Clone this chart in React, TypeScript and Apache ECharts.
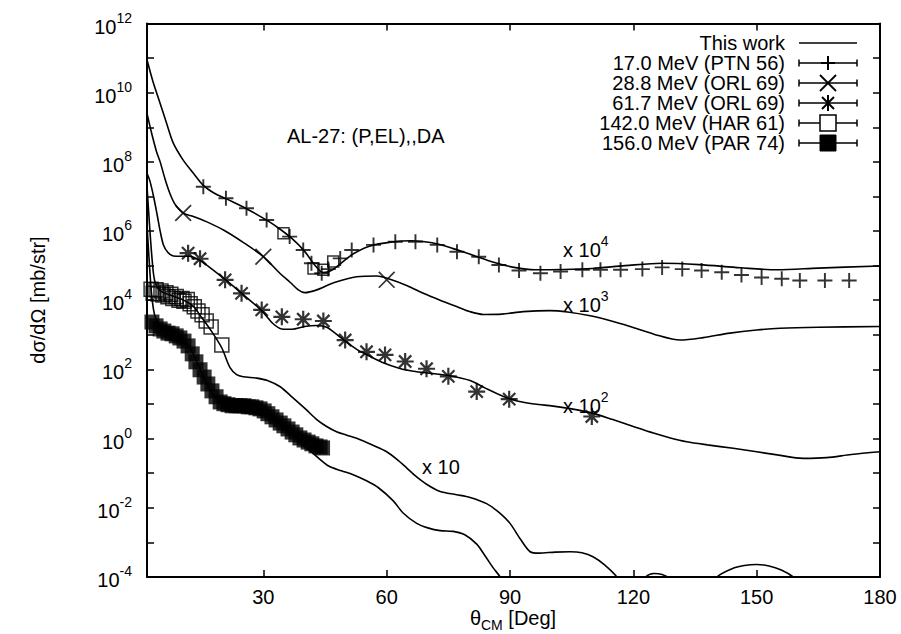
import React, { useEffect, useRef } from 'react';
import * as echarts from 'echarts';

const FONT = '"Liberation Sans", Arial, Helvetica, sans-serif';

// axis ticks / labels
const THETA_TICKS = [30, 60, 90, 120, 150, 180];
const DECADE_TICKS = [1e-4, 1e-3, 1e-2, 1e-1, 1, 1e1, 1e2, 1e3, 1e4, 1e5, 1e6, 1e7, 1e8, 1e9, 1e10, 1e11, 1e12];
const DECADE_LABELS = [1e-4, 1e-2, 1, 1e2, 1e4, 1e6, 1e8, 1e10, 1e12];

const LEGEND_ROWS = [
  'This work',
  '17.0 MeV (PTN 56)',
  '28.8 MeV (ORL 69)',
  '61.7 MeV (ORL 69)',
  '142.0 MeV (HAR 61)',
  '156.0 MeV (PAR 74)',
];

// All pairs: [θ_CM (deg), log10 of dσ/dΩ (mb/str), already multiplied by the plotted factor]
// "This work" curves
const theory17x1e4: [number, number][] = [
  [1.7, 10.95], [3.2, 10.3], [4.9, 9.69], [6.5, 9.1], [8.1, 8.54], [10.5, 8.05], [13, 7.67], [15.4, 7.32],
  [18, 7.1], [21, 6.93], [26, 6.64], [31, 6.3], [34, 6.06], [37, 5.78], [40, 5.42], [42.5, 5.02], [44.5, 4.8],
  [46.5, 4.86], [49, 5.08], [52, 5.35], [56, 5.57], [61, 5.68], [66, 5.72], [71, 5.66], [76, 5.5], [81, 5.3],
  [86, 5.1], [91, 4.95], [96, 4.88], [103, 4.89], [110, 4.92], [118, 5.0], [127, 5.07], [136, 5.03],
  [146, 4.94], [155, 4.88], [165, 4.93], [180, 4.99],
];
const theory28x1e3: [number, number][] = [
  [1.7, 9.4], [2.8, 8.84], [4, 8.3], [4.9, 8.0], [6.1, 7.5], [7.3, 7.08], [8.5, 6.78], [10.5, 6.52], [13, 6.42],
  [16, 6.28], [20.3, 6.03], [25, 5.68], [30, 5.26], [34, 4.78], [36.5, 4.52], [38.5, 4.3], [40.1, 4.22],
  [43, 4.3], [47, 4.5], [52.7, 4.68], [57.6, 4.7], [61, 4.6], [65, 4.42], [68.9, 4.2], [73, 4.0], [77, 3.82],
  [80, 3.68], [83.5, 3.59], [88, 3.6], [93.2, 3.67], [99.7, 3.7], [104, 3.66], [109.5, 3.55], [114, 3.42],
  [119.2, 3.24], [125, 3.02], [131.4, 2.85], [137, 2.92], [143.5, 3.05], [150, 3.14], [155.7, 3.19],
  [165, 3.22], [180, 3.24],
];
const theory61x1e2: [number, number][] = [
  [1.7, 7.67], [2.4, 7.45], [3.3, 7.0], [4.2, 6.45], [4.9, 6.0], [5.7, 5.6], [6.8, 5.38], [8.1, 5.28],
  [10, 5.27], [12, 5.27], [14.6, 5.15], [17.5, 4.9], [20.7, 4.6], [24.7, 4.2], [29.6, 3.7], [32.4, 3.32],
  [34.5, 3.17], [37, 3.16], [40, 3.24], [43, 3.27], [45.4, 3.22], [48, 3.0], [50.3, 2.78], [53, 2.56],
  [55.1, 2.43], [59, 2.2], [63.2, 2.03], [66.5, 1.95], [70.5, 1.89], [75.4, 1.82], [80.3, 1.68], [84, 1.46],
  [88.4, 1.22], [92, 1.08], [96, 1.0], [100.5, 0.94], [105, 0.86], [110.3, 0.73], [115, 0.55], [120, 0.35],
  [124.9, 0.16], [129, 0.02], [133, -0.09], [138, -0.18], [144.3, -0.28], [150, -0.38], [155, -0.47],
  [161.3, -0.57], [167, -0.55], [173, -0.46], [180, -0.38],
];
const theory142x10: [number, number][] = [
  [1.7, 7.3], [2.3, 6.2], [3, 5.1], [3.6, 4.55], [4.9, 4.28], [8, 4.12], [11, 3.98], [13, 3.82], [15, 3.5],
  [17.4, 3.1], [19.9, 2.62], [21.9, 2.05], [23.5, 1.85], [25.1, 1.79], [28.4, 1.75], [31, 1.68], [34.1, 1.5],
  [37, 1.2], [40.5, 0.83], [43, 0.55], [45.4, 0.35], [47.8, 0.2], [50.3, 0.1], [52.7, 0.01], [56.8, -0.2],
  [60, -0.38], [62.5, -0.6], [64.9, -0.85], [67, -1.08], [69.7, -1.32], [73, -1.53], [77, -1.62],
  [80.3, -1.7], [84.3, -1.88], [87.6, -2.16], [90, -2.45], [92.5, -2.9], [94.9, -3.27], [97, -3.31],
  [101, -3.28], [104.6, -3.27], [107.5, -3.3], [110.3, -3.42], [113, -3.65], [116, -4.0], [118, -4.4],
  [120, -4.5], [121.5, -4.3], [123, -4.0], [125, -3.9], [127, -3.93], [128.9, -4.05], [131, -4.4],
  [135, -4.6], [138, -4.4], [140.3, -4.0], [144, -3.76], [147, -3.67], [150, -3.64], [153, -3.68],
  [156, -3.8], [158.9, -4.0], [162, -4.35], [170, -4.6], [180, -4.6],
];
const theory156x1: [number, number][] = [
  [1.7, 6.2], [2.2, 5.2], [2.8, 4.2], [3.5, 3.6], [4.5, 3.3], [6, 3.15], [8, 3.02], [10, 2.9], [12, 2.65],
  [13.5, 2.3], [15, 1.9], [16.5, 1.55], [18, 1.25], [20, 1.02], [22, 0.92], [25, 0.88], [28, 0.84], [31, 0.7],
  [34, 0.45], [37, 0.15], [40, -0.2], [43, -0.52], [46, -0.8], [49, -0.93], [52, -1.05], [55.1, -1.22],
  [58, -1.42], [61.6, -1.8], [64, -2.15], [67.3, -2.45], [70, -2.58], [73, -2.66], [76.2, -2.68],
  [79, -2.78], [81.9, -3.05], [84, -3.4], [86, -3.75], [87.6, -4.0], [90, -4.6],
];

// measured data
const ptn56x1e4: [number, number][] = [
  [15.4, 7.28], [20.9, 6.95], [25.9, 6.66], [30.8, 6.32], [36.4, 5.84], [39.7, 5.45], [41.7, 5.07],
  [44.2, 4.78], [45.8, 4.9], [48.7, 5.21], [51.5, 5.45], [56.8, 5.6], [62.1, 5.69], [67, 5.69], [72.3, 5.6],
  [77.1, 5.4], [82.4, 5.26], [87.3, 5.02], [92.2, 4.86], [97.4, 4.78], [102.3, 4.83], [107.6, 4.88],
  [112, 4.88], [116.9, 4.88], [122.2, 4.9], [127, 4.95], [131.9, 4.9], [136.6, 4.86], [141.5, 4.81],
  [146.3, 4.73], [151.2, 4.66], [156.1, 4.62], [160.5, 4.57], [166.6, 4.57], [172.5, 4.57],
];
const ptn56BoxesX1e4: [number, number][] = [[34.9, 5.94], [42.2, 4.92], [44.6, 4.88], [47, 5.12]];
const orl69_28x1e3: [number, number][] = [[10.5, 6.52], [30, 5.26], [60, 4.59]];
const orl69_61x1e2: [number, number][] = [
  [11.7, 5.36], [14.6, 5.2], [20.7, 4.59], [24.7, 4.2], [29.6, 3.72], [34.5, 3.52], [39.7, 3.45],
  [44.6, 3.4], [49.9, 2.85], [55.1, 2.51], [59.6, 2.42], [64.5, 2.23], [69.7, 2.02], [75.0, 1.8],
  [81.9, 1.36], [89.8, 1.14], [109.9, 0.64],
];
const har61x10: [number, number][] = [
  [2.7, 4.32], [3.2, 4.2], [3.9, 4.3], [4.4, 4.18], [5.1, 4.27], [5.6, 4.15], [6.3, 4.22], [6.8, 4.1],
  [7.5, 4.17], [8.0, 4.05], [8.8, 4.11], [9.5, 4.0], [10.2, 4.05], [10.7, 3.97], [11.5, 4.02], [12.2, 3.9],
  [13.2, 3.81], [14.1, 3.69], [15.1, 3.58], [16.1, 3.4], [17.3, 3.23], [19.9, 2.71],
];
const par74x1: [number, number][] = [
  [2.9, 3.37], [3.9, 3.26], [4.9, 3.17], [5.8, 3.11], [6.8, 3.05], [7.8, 3.03], [8.8, 2.97], [9.7, 2.91],
  [10.7, 2.82], [11.7, 2.68], [12.7, 2.45], [13.6, 2.22], [14.6, 1.99], [15.6, 1.78], [16.5, 1.58],
  [17.5, 1.38], [18.5, 1.21], [19.5, 1.06], [20.4, 1.01], [21.4, 0.98], [22.4, 0.95], [23.4, 0.95],
  [24.3, 0.95], [25.3, 0.95], [26.3, 0.92], [27.2, 0.92], [28.2, 0.89], [29.2, 0.86], [30.2, 0.8],
  [31.1, 0.72], [32.1, 0.63], [33.1, 0.54], [34.1, 0.45], [35.0, 0.37], [36.0, 0.28], [37.0, 0.19],
  [37.9, 0.11], [38.9, 0.02], [39.9, -0.04], [40.9, -0.1], [41.8, -0.15], [42.8, -0.21], [43.8, -0.24],
  [44.4, -0.27],
];

const toValues = (a: [number, number][]) => a.map(([t, e]) => [t, Math.pow(10, e)]);

const PLUS = 'path://M0,6.1H14V7.9H0Z M6.1,0H7.9V14H6.1Z';
const CROSS = 'path://M1,0L14,13L13,14L0,1Z M13,0L14,1L1,14L0,13Z';
const STAR =
  'path://M0,6.1H14V7.9H0Z M6.1,0H7.9V14H6.1Z M2.6,1.3L12.7,11.4L11.4,12.7L1.3,2.6Z M11.4,1.3L12.7,2.6L2.6,12.7L1.3,11.4Z';

const supRich = {
  b: { fontSize: 20, lineHeight: 26, verticalAlign: 'bottom', fontFamily: FONT, color: '#000', fill: '#000' },
  s: { fontSize: 14, lineHeight: 14, verticalAlign: 'top', fontFamily: FONT, color: '#000', fill: '#000' },
};
const subRich = {
  b: { fontSize: 20, lineHeight: 20, verticalAlign: 'top', fontFamily: FONT, color: '#000', fill: '#000' },
  d: { fontSize: 14, lineHeight: 14, padding: [10, 0, 0, 0], verticalAlign: 'top', fontFamily: FONT, color: '#000', fill: '#000' },
};

function buildGraphic() {
  const g: any[] = [];
  const txt = (x: number, y: number, text: string, align: string, extra: any = {}) => ({
    type: 'text',
    x,
    y,
    z: 10,
    style: {
      text,
      fill: '#000',
      fontSize: 20,
      fontFamily: FONT,
      align,
      textAlign: align,
      verticalAlign: 'middle',
      textVerticalAlign: 'middle',
      ...extra,
    },
  });
  const ln = (x1: number, y1: number, x2: number, y2: number, w = 1.5) => ({
    type: 'line',
    z: 10,
    shape: { x1, y1, x2, y2 },
    style: { stroke: '#000', lineWidth: w },
  });
  const LX0 = 799, LX1 = 857, C = 828, TX = 785;
  LEGEND_ROWS.forEach((name, i) => {
    const y = 43 + i * 20;
    g.push(txt(TX, y, name, 'right'));
    g.push(ln(LX0, y, LX1, y));
    if (i > 0) {
      g.push(ln(LX0, y - 3.5, LX0, y + 3.5));
      g.push(ln(LX1, y - 3.5, LX1, y + 3.5));
    }
    if (i === 1) {
      g.push(ln(C - 7, y, C + 7, y, 2));
      g.push(ln(C, y - 7, C, y + 7, 2));
    } else if (i === 2) {
      g.push(ln(C - 8, y - 8, C + 8, y + 8, 1.8));
      g.push(ln(C - 8, y + 8, C + 8, y - 8, 1.8));
    } else if (i === 3) {
      g.push(ln(C, y - 8, C, y + 8, 2));
      g.push(ln(C - 6, y - 6, C + 6, y + 6, 2));
      g.push(ln(C - 6, y + 6, C + 6, y - 6, 2));
    } else if (i === 4) {
      g.push({ type: 'rect', z: 10, shape: { x: C - 8, y: y - 8, width: 16, height: 16 }, style: { fill: '#fff', stroke: '#000', lineWidth: 1.5 } });
    } else if (i === 5) {
      g.push({ type: 'rect', z: 10, shape: { x: C - 8, y: y - 8, width: 16, height: 16 }, style: { fill: '#000', stroke: '#000', lineWidth: 1 } });
    }
  });
  g.push(txt(287, 136, 'AL-27: (P,EL),,DA', 'left'));
  g.push(txt(563, 247, '{b|x 10}{s|4}', 'left', { rich: supRich }));
  g.push(txt(563, 302, '{b|x 10}{s|3}', 'left', { rich: supRich }));
  g.push(txt(563, 403, '{b|x 10}{s|2}', 'left', { rich: supRich }));
  g.push(txt(422, 467, 'x 10', 'left'));
  g.push(txt(513, 618, '{b|θ}{d|CM}{b| [Deg]}', 'center', { rich: subRich }));
  g.push({
    type: 'text',
    x: 38,
    y: 300,
    rotation: Math.PI / 2,
    z: 10,
    style: {
      text: 'dσ/dΩ [mb/str]',
      fill: '#000',
      fontSize: 20,
      fontFamily: FONT,
      align: 'center',
      textAlign: 'center',
      verticalAlign: 'middle',
      textVerticalAlign: 'middle',
    },
  });
  return g;
}

export default function App() {
  const ref = useRef<HTMLDivElement>(null);
  useEffect(() => {
    if (!ref.current) return;
    const chart = echarts.init(ref.current, null, { renderer: 'svg' });
    const axisLine = { show: true, onZero: false, lineStyle: { color: '#000', width: 2 } };
    const tickX = { show: true, inside: true, length: 7, customValues: THETA_TICKS, lineStyle: { color: '#000', width: 1.5 } };
    const tickY = { show: true, inside: true, length: 7, customValues: DECADE_TICKS, lineStyle: { color: '#000', width: 1.5 } };
    const lineSeries = (name: string, d: [number, number][]) => ({
      type: 'line',
      name,
      data: toValues(d),
      showSymbol: false,
      symbol: 'none',
      smooth: 0.3,
      clip: true,
      lineStyle: { color: '#000', width: 1.6 },
      z: 2,
      silent: true,
    });
    const scatter = (name: string, d: [number, number][], symbol: string, size: number, itemStyle: any) => ({
      type: 'scatter',
      name,
      data: toValues(d),
      symbol,
      symbolSize: size,
      itemStyle,
      clip: true,
      z: 3,
      silent: true,
    });
    const black = { color: '#000' };
    const hollow = { color: 'rgba(0,0,0,0)', borderColor: '#000', borderWidth: 1.5 };
    chart.setOption({
      animation: false,
      backgroundColor: '#fff',
      textStyle: { fontFamily: FONT, color: '#000' },
      grid: { left: 147, right: 21, top: 23.5, bottom: 57, containLabel: false, outerBoundsMode: 'none' },
      xAxis: [
        {
          type: 'value', min: 1.7, max: 180, position: 'bottom',
          axisLine, axisTick: tickX,
          axisLabel: { customValues: THETA_TICKS, color: '#000', fontSize: 20, fontFamily: FONT, margin: 12, lineHeight: 16 },
          splitLine: { show: false },
        },
        {
          type: 'value', min: 1.7, max: 180, position: 'top',
          axisLine, axisTick: tickX, axisLabel: { show: false }, splitLine: { show: false },
        },
      ],
      yAxis: [
        {
          type: 'log', logBase: 10, min: 1e-4, max: 1e12, position: 'left',
          axisLine, axisTick: tickY,
          axisLabel: {
            customValues: DECADE_LABELS,
            margin: 15,
            formatter: (v: number) => `{b|10}{s|${Math.round(Math.log10(v))}}`,
            rich: supRich,
          },
          splitLine: { show: false },
        },
        {
          type: 'log', logBase: 10, min: 1e-4, max: 1e12, position: 'right',
          axisLine, axisTick: tickY, axisLabel: { show: false }, splitLine: { show: false },
        },
      ],
      series: [
        lineSeries('This work (17.0 MeV x10^4)', theory17x1e4),
        lineSeries('This work (28.8 MeV x10^3)', theory28x1e3),
        lineSeries('This work (61.7 MeV x10^2)', theory61x1e2),
        lineSeries('This work (142.0 MeV x10)', theory142x10),
        lineSeries('This work (156.0 MeV)', theory156x1),
        scatter(LEGEND_ROWS[1], ptn56x1e4, PLUS, 15, black),
        scatter(LEGEND_ROWS[1] + ' error bars', ptn56BoxesX1e4, 'rect', 11, hollow),
        scatter(LEGEND_ROWS[2], orl69_28x1e3, CROSS, 17, black),
        scatter(LEGEND_ROWS[3], orl69_61x1e2, STAR, 17, black),
        scatter(LEGEND_ROWS[4], har61x10, 'rect', 14, hollow),
        scatter(LEGEND_ROWS[5], par74x1, 'rect', 15, black),
      ],
      graphic: buildGraphic(),
    });
    return () => chart.dispose();
  }, []);
  return (
    <div
      ref={ref}
      style={{ position: 'fixed', left: 0, top: 0, width: 901, height: 634, background: '#fff' }}
    />
  );
}
